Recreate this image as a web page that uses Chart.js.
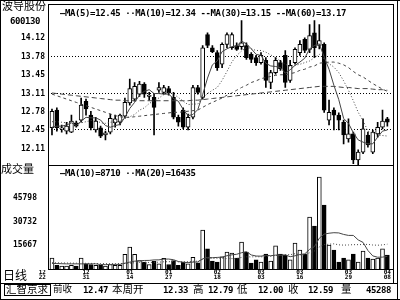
<!DOCTYPE html>
<html><head><meta charset="utf-8">
<script src="https://cdn.jsdelivr.net/npm/chart.js@4/dist/chart.umd.min.js"></script>
<style>
html,body{margin:0;padding:0;background:#fff;}
#wrap{position:relative;width:400px;height:300px;overflow:hidden;background:#fff;}
canvas{position:absolute;left:0;top:0;}
.t{position:absolute;white-space:pre;color:#000;font-family:"DejaVu Sans Mono",monospace;font-weight:bold;font-size:9px;line-height:9px;letter-spacing:-0.4px;}
.c{position:absolute;white-space:pre;color:#000;font-family:"Noto Sans CJK SC",sans-serif;line-height:1;}
.ln{position:absolute;background:#000;}
</style></head><body>
<div id="wrap">
<canvas id="pc" width="400" height="300"></canvas>
<canvas id="vc" width="400" height="300"></canvas>
<div class="ln" style="left:0;top:0;width:400px;height:1px"></div>
<div class="ln" style="left:0;top:0;width:1px;height:300px"></div>
<div class="ln" style="left:0;top:299px;width:400px;height:1px"></div>
<div class="ln" style="left:397px;top:0;width:1px;height:300px"></div>
<div class="ln" style="left:48px;top:4px;width:346px;height:1px"></div>
<div class="ln" style="left:48px;top:4px;width:1px;height:266px"></div>
<div class="ln" style="left:393px;top:4px;width:1px;height:279px"></div>
<div class="ln" style="left:48px;top:165px;width:346px;height:1px"></div>
<div class="ln" style="left:48px;top:269px;width:346px;height:1px"></div>
<div class="ln" style="left:0;top:283px;width:398px;height:1px"></div>
<div style="position:absolute;left:4px;top:284px;width:45px;height:10px;border:1px solid #000"></div>
<div class="c" style="left:2px;top:0px;font-size:11px">波导股份</div>
<div class="t" style="left:10px;top:17px">600130</div>
<div class="c" style="left:1px;top:163px;font-size:11px">成交量</div>
<div class="c" style="left:3px;top:269px;font-size:12px">日线</div>
<div class="t" style="left:60px;top:9px">—MA(5)=12.45 ··MA(10)=12.34 --MA(30)=13.15 --MA(60)=13.17</div>
<div class="t" style="left:60px;top:169px">—MA(10)=8710 ··MA(20)=16435</div>
<div class="c" style="left:6px;top:284px;font-size:10.5px">汇智京求</div>
<div class="c" style="left:53px;top:284px;font-size:9.5px">前收</div>
<div class="t" style="left:83px;top:286px">12.47</div>
<div class="c" style="left:112px;top:284px;font-size:10.5px">本周开</div>
<div class="t" style="left:163px;top:286px">12.33</div>
<div class="c" style="left:193px;top:284px;font-size:10.5px">高</div>
<div class="t" style="left:208px;top:286px">12.79</div>
<div class="c" style="left:237px;top:284px;font-size:10.5px">低</div>
<div class="t" style="left:258px;top:286px">12.00</div>
<div class="c" style="left:288px;top:284px;font-size:10.5px">收</div>
<div class="t" style="left:308px;top:286px">12.59</div>
<div class="c" style="left:341px;top:284px;font-size:10.5px">量</div>
<div class="t" style="left:366px;top:286px">45288</div>
</div>
<script>
// ---- data ----
const opens  = [12.49,12.81,12.47,12.43,12.41,12.58,12.63,12.97,12.72,12.45, 12.49,12.36,12.41,12.58,12.59,12.70,12.94,13.01,13.10,13.28, 13.06,13.04,13.17,13.13,13.20,13.04,12.68,12.81,12.50,12.68, 13.22,13.04,14.18,13.94,13.85,13.64,14.00,13.94,13.98,13.96, 13.98,13.82,13.76,13.67,13.71,13.31,13.49,13.67,13.80,13.35, 13.67,13.85,14.09,13.91,14.21,13.98,14.00,12.63,12.81,12.72, 12.59,12.29,12.38,11.91,12.05,12.36,12.05,12.38,12.50,12.65];
const highs  = [12.83,12.85,12.54,12.59,12.72,12.61,13.03,13.01,12.79,12.68, 12.52,12.43,12.74,12.72,12.74,13.03,13.37,13.31,13.33,13.31, 13.13,13.10,13.31,13.26,13.24,13.13,12.72,12.85,12.74,13.26, 13.26,13.98,14.21,13.98,13.89,14.03,14.21,14.21,14.03,14.43, 14.03,13.85,13.80,13.85,13.76,13.53,13.76,13.71,13.89,13.71, 13.94,14.07,14.12,14.36,14.43,14.36,14.03,12.99,12.85,12.76, 12.63,12.65,12.41,12.09,12.65,12.41,12.45,12.59,12.81,12.68];
const lows   = [12.36,12.43,12.41,12.38,12.40,12.50,12.59,12.72,12.45,12.41, 12.31,12.27,12.38,12.50,12.54,12.67,12.90,12.97,13.06,13.04, 12.99,12.36,13.13,13.10,13.08,12.65,12.52,12.47,12.45,12.65, 13.10,13.01,13.94,13.85,13.53,13.58,13.94,13.91,13.89,13.91, 13.73,13.67,13.62,13.64,13.22,13.20,13.46,13.53,13.22,13.31, 13.64,13.80,13.85,13.85,13.76,13.92,12.77,12.54,12.45,12.45, 12.20,12.23,11.84,11.80,12.02,12.14,12.02,12.32,12.47,12.52];
const closes = [12.79,12.49,12.49,12.52,12.61,12.52,12.90,12.83,12.49,12.61, 12.34,12.40,12.66,12.65,12.72,12.95,13.20,13.24,13.28,13.10, 13.08,12.86,13.22,13.22,13.12,12.68,12.59,12.50,12.68,13.22, 13.13,13.94,13.98,13.87,13.58,14.00,14.18,14.18,13.91,14.03, 13.76,13.73,13.67,13.80,13.35,13.49,13.71,13.56,13.31,13.62, 13.91,14.00,13.89,14.16,13.94,14.07,12.81,12.77,12.72,12.63, 12.36,12.38,11.91,12.05,12.47,12.18,12.41,12.50,12.61,12.59];
const volumes = [7600,3000,2500,2500,3000,2500,7600,4000,3500,3000, 3000,2500,3500,3000,3000,10000,14600,10000,6000,5000, 3500,5500,4000,7500,3500,6000,3000,5000,4000,8000, 4500,25400,13400,5700,5000,8300,11400,10800,7600,17800, 11400,4400,6400,5000,10200,5700,15300,10200,9500,6400, 17200,12700,10200,33700,28000,59100,41300,15900,12700,5100, 7600,6400,10200,5100,12100,7600,7000,7600,13400,9500];
const ma5  = [12.50,12.52,12.52,12.54,12.58,12.53,12.61,12.68,12.67,12.67, 12.63,12.53,12.50,12.53,12.55,12.68,12.84,12.95,13.08,13.15, 13.18,13.11,13.11,13.10,13.10,13.02,12.97,12.82,12.71,12.73, 12.82,13.09,13.39,13.63,13.70,13.87,13.92,13.96,13.97,14.06, 14.01,13.92,13.82,13.80,13.66,13.61,13.60,13.58,13.48,13.54, 13.62,13.68,13.75,13.92,13.98,14.01,13.77,13.55,13.26,13.00, 12.66,12.57,12.40,12.27,12.23,12.20,12.20,12.32,12.43,12.45];
const ma10 = [12.60,12.60,12.59,12.58,12.58,12.57,12.58,12.60,12.62,12.63, 12.58,12.57,12.59,12.60,12.61,12.66,12.69,12.73,12.81,12.85, 12.93,12.98,13.03,13.09,13.13,13.10,13.04,12.97,12.91,12.92, 12.92,13.03,13.11,13.17,13.22,13.35,13.51,13.68,13.80,13.88, 13.94,13.92,13.89,13.89,13.86,13.81,13.76,13.70,13.64,13.60, 13.62,13.64,13.67,13.70,13.76,13.82,13.73,13.65,13.59,13.49, 13.34,13.17,12.98,12.77,12.62,12.43,12.39,12.36,12.35,12.34];
const ma30 = [13.10,13.07,13.04,13.01,12.98,12.95,12.92,12.89,12.86,12.83, 12.80,12.77,12.74,12.71,12.69,12.68,12.68,12.69,12.70,12.71, 12.72,12.73,12.74,12.75,12.76,12.77,12.77,12.78,12.79,12.80, 12.81,12.86,12.91,12.95,12.99,13.03,13.08,13.12,13.17,13.22, 13.26,13.31,13.34,13.38,13.40,13.42,13.44,13.45,13.45,13.47, 13.49,13.53,13.55,13.59,13.61,13.66,13.67,13.68,13.68,13.66, 13.63,13.58,13.51,13.45,13.41,13.35,13.29,13.24,13.19,13.15];
const ma60 = [13.12,13.11,13.10,13.09,13.08,13.07,13.06,13.05,13.04,13.03, 13.02,13.01,13.00,12.99,12.99,12.98,12.98,12.98,12.98,12.98, 12.98,12.98,12.98,12.98,12.98,12.98,12.98,12.98,12.98,12.99, 12.99,13.00,13.01,13.02,13.03,13.04,13.05,13.06,13.07,13.08, 13.09,13.10,13.11,13.12,13.13,13.14,13.15,13.16,13.17,13.18, 13.19,13.20,13.21,13.22,13.23,13.24,13.24,13.24,13.24,13.23, 13.22,13.22,13.21,13.20,13.20,13.20,13.19,13.18,13.18,13.17];
const volMa10 = [4200,4100,4000,3900,3900,3900,3900,3900,3900,3920, 3460,3410,3510,3560,3560,4310,5010,5610,5860,6060, 6110,6410,6460,6910,6960,6560,5400,4900,4700,5000, 5100,7090,8030,7850,8000,8230,9070,9650,10010,10990, 11680,9580,8880,8810,9330,9070,9460,9400,9590,8450, 9030,9860,10240,13110,14890,20230,22830,23400,23720,23590, 22630,22000,22000,19140,17550,12400,8970,8140,8210,8710];
const volMa20 = [4600,4550,4500,4450,4400,4350,4300,4250,4200,4150, 4100,4050,4000,4050,4100,4200,4400,4600,4800,4990, 4785,4910,4985,5235,5260,5435,5205,5255,5280,5530, 5605,6750,7245,7380,7480,7395,7235,7275,7355,7995, 8390,8335,8455,8330,8665,8650,9265,9525,9800,9720, 10355,9720,9560,10960,12110,14650,16145,16400,16655,16020, 15830,15930,16120,16125,16220,16315,15900,15770,15965,16435];
const priceTicks = [14.12,13.78,13.45,13.11,12.78,12.45,12.11];
const priceGrid  = [13.78,13.11,12.45];
const volTicks   = [15667,30732,45798];
const dateLabels = [['12','22'],['12','31'],['01','14'],['01','27'],['02','18'],['03','03'],['03','16'],['03','29'],['04','08']];
const dateIdx    = [-2,7,16,24,34,43,51,61,69];

// ---- drawing ----
const idx = closes.map((_, i) => i);
const up = idx.map(i => closes[i] >= opens[i]);
const fills = up.map(u => u ? '#fff' : '#000');
const X_MIN = -0.82, X_MAX = 70.16;
const tickFont = {family: 'DejaVu Sans Mono', size: 8, weight: 'bold'};
const LINE = '#444';
const pts = arr => arr.map((v, i) => ({x: i, y: v}));
const lineDs = (arr, dash) => ({type: 'line', data: pts(arr), borderColor: LINE, borderWidth: 1,
  borderDash: dash, pointRadius: 0, tension: 0, order: 0, fill: false});

new Chart(document.getElementById('pc'), {
  type: 'bar',
  data: {datasets: [
    {data: idx.map(i => ({x: i, y: [lows[i], highs[i]]})), backgroundColor: '#000', barThickness: 1, order: 3, grouped: false},
    {data: idx.map(i => ({x: i, y: [opens[i], closes[i]]})), backgroundColor: fills, borderColor: '#000', borderWidth: 1,
      borderSkipped: false, barThickness: 4, order: 2, grouped: false},
    lineDs(ma5, []), lineDs(ma10, [1, 2]), lineDs(ma30, [3, 3]), lineDs(ma60, [5, 3])
  ]},
  options: {
    responsive: false, animation: false, devicePixelRatio: 1, events: [],
    layout: {padding: {left: 0, right: 7, top: 5, bottom: 135}},
    plugins: {legend: {display: false}, tooltip: {enabled: false}},
    scales: {
      x: {type: 'linear', min: X_MIN, max: X_MAX, offset: false, display: false},
      y: {min: 11.816, max: 14.663,
        afterBuildTicks: s => { s.ticks = priceTicks.map(v => ({value: v})); },
        afterFit: s => { s.width = 48; },
        ticks: {font: tickFont, color: '#000', padding: 3, callback: v => v.toFixed(2)},
        grid: {drawTicks: false, color: c => priceGrid.includes(c.tick && c.tick.value) ? '#000' : 'rgba(0,0,0,0)', lineWidth: 1},
        border: {display: false, dash: [1, 2]}
      }
    }
  }
});

new Chart(document.getElementById('vc'), {
  type: 'bar',
  data: {datasets: [
    {data: idx.map(i => ({x: i, y: volumes[i]})), backgroundColor: fills, borderColor: '#000', borderWidth: 1,
      borderSkipped: false, barThickness: 4, order: 2, grouped: false},
    lineDs(volMa10, []), lineDs(volMa20, [1, 2])
  ]},
  options: {
    responsive: false, animation: false, devicePixelRatio: 1, events: [],
    layout: {padding: {left: 0, right: 7, top: 165, bottom: 16}},
    plugins: {legend: {display: false}, tooltip: {enabled: false}},
    scales: {
      x: {type: 'linear', min: X_MIN, max: X_MAX, offset: false,
        afterBuildTicks: s => { s.ticks = dateIdx.map(v => ({value: v})); },
        afterFit: s => { s.height = 14; },
        ticks: {autoSkip: false, maxRotation: 0, padding: 0, color: '#000',
          font: {family: 'DejaVu Sans Mono', size: 6, weight: 'bold', lineHeight: 0.85},
          callback: (v, i) => dateLabels[i]},
        grid: {display: false, drawTicks: false, tickLength: 0}, border: {display: false}
      },
      y: {min: 0, max: 66800,
        afterBuildTicks: s => { s.ticks = volTicks.map(v => ({value: v})); },
        afterFit: s => { s.width = 48; },
        ticks: {font: tickFont, color: '#000', padding: 3, callback: v => String(v)},
        grid: {display: false}, border: {display: false}
      }
    }
  }
});
</script>
</body></html>
